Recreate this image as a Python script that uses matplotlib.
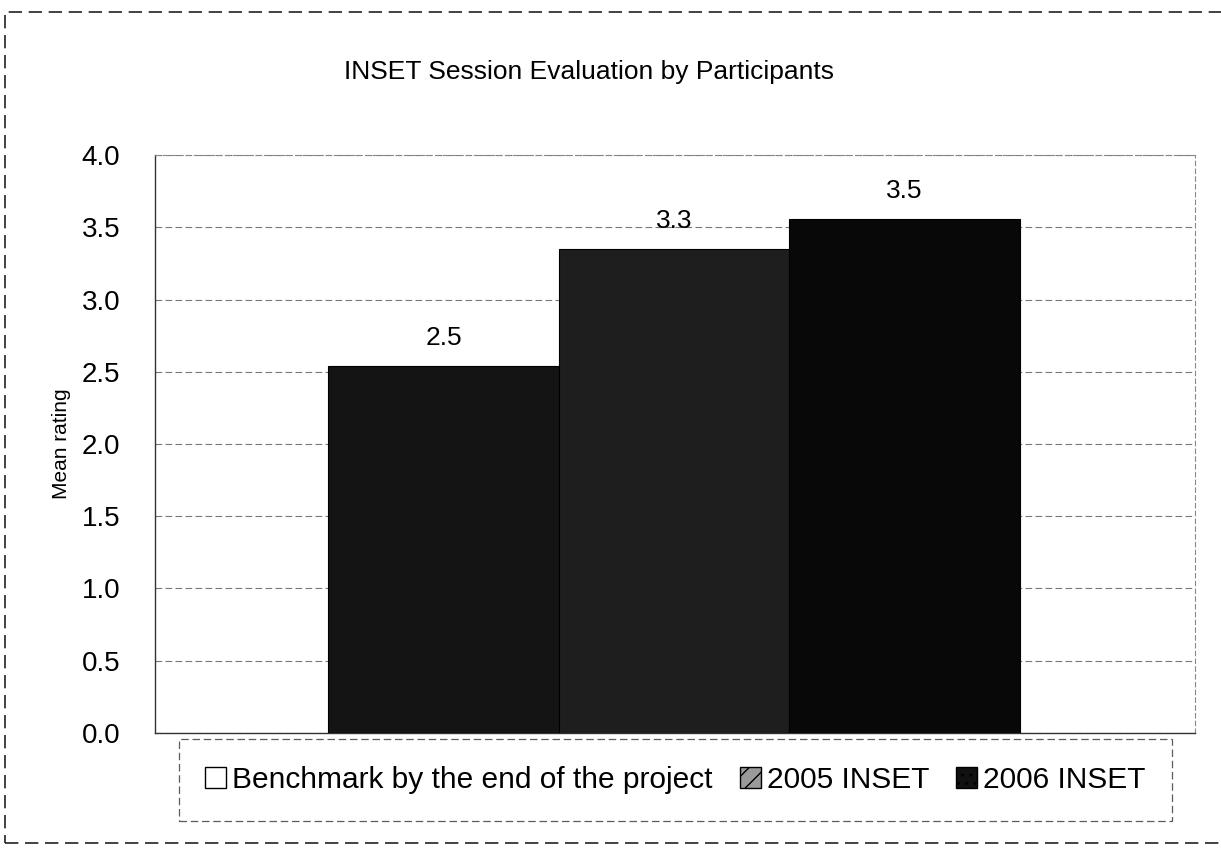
import matplotlib.pyplot as plt
from matplotlib.patches import Patch, Rectangle

# data
series = ["Benchmark by the end of the project", "2005 INSET", "2006 INSET"]
ratings = [2.54, 3.35, 3.56]
rating_labels = ["2.5", "3.3", "3.5"]
yticks = [0.0, 0.5, 1.0, 1.5, 2.0, 2.5, 3.0, 3.5, 4.0]

bar_colors = ["#141414", "#1e1e1e", "#080808"]
legend_faces = ["white", "#9a9a9a", "#111111"]
legend_hatch = [None, "//", ".."]


def main():
    plt.rcParams['font.family'] = ['Liberation Sans', 'DejaVu Sans']

    fig = plt.figure(figsize=(12.21, 8.66), dpi=100)
    ax = fig.add_axes([0.127, 0.1536, 0.852, 0.6674])

    x = list(range(len(ratings)))
    bars = ax.bar(x, ratings, width=1.0, color=bar_colors,
                  edgecolor="#000000", linewidth=0.8, zorder=3)

    for bar, text in zip(bars, rating_labels):
        ax.text(bar.get_x() + bar.get_width() / 2,
                bar.get_height() + 0.11, text,
                ha="center", va="bottom", fontsize=19, zorder=4)

    ax.set_xlim(-1.252, 3.261)
    ax.set_ylim(0, 4.0)
    ax.set_yticks(yticks)
    ax.set_yticklabels([f"{v:.1f}" for v in yticks], fontsize=20)
    ax.set_xticks([])
    ax.tick_params(axis="y", length=0, pad=25)
    ax.set_ylabel("Mean rating", fontsize=15, labelpad=8)

    ax.grid(axis="y", linestyle=(0, (6, 3)), color="#777777",
            linewidth=0.8, zorder=0)

    for side in ["top", "right"]:
        ax.spines[side].set_linestyle((0, (4, 3)))
        ax.spines[side].set_color("#888888")
        ax.spines[side].set_linewidth(0.8)
    for side in ["left", "bottom"]:
        ax.spines[side].set_color("#333333")
        ax.spines[side].set_linewidth(1.0)

    fig.text(0.482, 0.917, "INSET Session Evaluation by Participants",
             ha="center", va="center", fontsize=19)

    handles = [
        Patch(facecolor=f, edgecolor="black", hatch=h, linewidth=1.0)
        for f, h in zip(legend_faces, legend_hatch)
    ]
    leg = fig.legend(handles, series, ncol=3, loc="center",
                     bbox_to_anchor=(0.553, 0.099), fontsize=21.5,
                     handlelength=0.7, handleheight=0.7,
                     handletextpad=0.2, columnspacing=0.9,
                     borderpad=0.9, fancybox=False, frameon=True)
    leg.get_frame().set_edgecolor("#333333")
    leg.get_frame().set_linestyle((0, (6, 3)))
    leg.get_frame().set_linewidth(0.9)

    # outer chart border
    fig.add_artist(Rectangle((0.004, 0.026), 1.0, 0.96,
                             transform=fig.transFigure, fill=False,
                             edgecolor="#222222", linewidth=1.2,
                             linestyle=(0, (8, 4))))

    fig.savefig("out.png", dpi=100)


if __name__ == "__main__":
    main()
